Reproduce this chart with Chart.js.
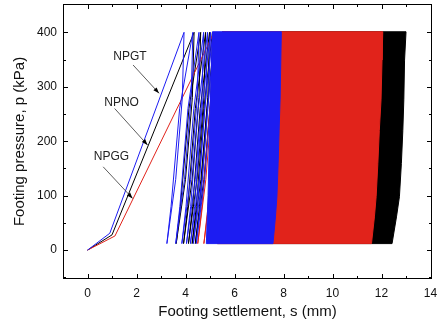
<!DOCTYPE html>
<html>
<head>
<meta charset="utf-8">
<script src="https://cdn.jsdelivr.net/npm/chart.js@4.4.1/dist/chart.umd.min.js"></script>
<style>
  html, body { margin: 0; padding: 0; background: #fff; }
</style>
</head>
<body>
<canvas id="chart" width="437" height="323"></canvas>
<script>
// axis ticks
const xTicks = [0, 2, 4, 6, 8, 10, 12, 14];
const xMinor = [1, 3, 5, 7, 9, 11, 13];
const yTicks = [0, 100, 200, 300, 400];
const yMinor = [-50, 50, 150, 250, 350];

// NPGT (blue): first loading and the first distinct load/unload cycles
const blueS = [0, 0.91, 3.94,
  3.87, 3.60, 3.24, 3.41, 3.76, 4.30,
  4.23, 3.96, 3.60, 3.77, 4.10, 4.55,
  4.48, 4.21, 3.85, 4.02, 4.34, 4.74,
  4.67, 4.40, 4.04, 4.21, 4.52, 4.90,
  4.83, 4.56, 4.20, 4.37, 4.67, 5.02,
  4.95, 4.68, 4.32, 4.49, 4.78, 5.12,
  5.05, 4.78, 4.44, 4.60, 4.90, 5.20];
const blueP = [0, 31, 400,
  280, 130, 12, 80, 260, 400,
  280, 130, 12, 80, 260, 400,
  280, 130, 12, 80, 260, 400,
  280, 130, 12, 80, 260, 400,
  280, 130, 12, 80, 260, 400,
  280, 130, 12, 80, 260, 400,
  280, 130, 12, 80, 260, 400];
// NPGT: outline of the dense cycling region
const blueBandS = [5.10, 7.91, 7.86, 7.82, 7.78, 7.73, 7.67, 7.57, 4.85, 4.92, 5.00, 5.10];
const blueBandP = [401, 401, 276, 220, 159, 98, 61, 12, 12, 100, 250, 401];

// NPNO (black)
const blackS = [0, 1.00, 4.35,
  4.28, 4.00, 3.62, 3.79, 4.14, 4.62,
  4.55, 4.27, 3.92, 4.09, 4.40, 4.82,
  4.75, 4.47, 4.12, 4.29, 4.60, 4.98,
  4.91, 4.63, 4.27, 4.44, 4.75, 5.10,
  5.03, 4.75, 4.40, 4.57, 4.88, 5.20];
const blackP = [0, 28, 400,
  280, 130, 12, 80, 260, 400,
  280, 130, 12, 80, 260, 400,
  280, 130, 12, 80, 260, 400,
  280, 130, 12, 80, 260, 400,
  280, 130, 12, 80, 260, 400];
const blackBandS = [5.5, 13.00, 12.94, 12.91, 12.87, 12.81, 12.73, 12.61, 12.43, 5.3];
const blackBandP = [401, 401, 349, 276, 220, 159, 98, 61, 12, 12];

// NPGG (red)
const redS = [0, 1.12, 5.17,
  5.10, 4.83, 4.50, 4.67, 5.00, 5.42,
  5.35, 5.08, 4.75, 4.92, 5.25, 5.62];
const redP = [0, 26, 400,
  280, 130, 12, 80, 260, 400,
  280, 130, 12, 80, 260, 400];
const redBandS = [5.5, 12.05, 12.02, 11.98, 11.91, 11.85, 11.78, 11.71, 11.59, 5.3];
const redBandP = [401, 401, 349, 276, 220, 159, 98, 61, 12, 12];

// curve labels with leader arrows (data units)
const labelText = ['NPGT', 'NPNO', 'NPGG'];
const labelS = [1.73, 1.39, 0.98];
const labelP = [355, 271, 171];
const arrowFromS = [1.86, 1.11, 0.64];
const arrowFromP = [340, 260, 153];
const arrowToS = [2.92, 2.45, 1.84];
const arrowToP = [288, 193, 95];

const BLUE = '#1c1cf2';
const RED = '#e1231b';
const BLACK = '#000000';

const pts = (xs, ys) => xs.map((v, i) => ({ x: v, y: ys[i] }));

const lineSet = (xs, ys, color) => ({
    data: pts(xs, ys),
    showLine: true,
    borderColor: color,
    borderWidth: 1,
    pointRadius: 0,
    fill: false,
    tension: 0
});

const bandSet = (xs, ys, color) => ({
    data: pts(xs, ys),
    showLine: true,
    borderColor: color,
    backgroundColor: color,
    borderWidth: 1,
    pointRadius: 0,
    fill: 'shape',
    tension: 0
});

const frame = {
    id: 'frame',
    afterDatasetsDraw(chart) {
        const { ctx, chartArea: a, scales: { x, y } } = chart;
        ctx.save();
        ctx.strokeStyle = '#000';
        ctx.lineWidth = 1;
        ctx.strokeRect(a.left + 0.5, a.top + 0.5, a.right - a.left - 1, a.bottom - a.top - 1);

        ctx.beginPath();
        const xt = (v, len) => {
            const px = Math.round(x.getPixelForValue(v)) + 0.5;
            ctx.moveTo(px, a.bottom); ctx.lineTo(px, a.bottom - len);
            ctx.moveTo(px, a.top); ctx.lineTo(px, a.top + len);
        };
        const yt = (v, len) => {
            const py = Math.round(y.getPixelForValue(v)) + 0.5;
            ctx.moveTo(a.left, py); ctx.lineTo(a.left + len, py);
            ctx.moveTo(a.right, py); ctx.lineTo(a.right - len, py);
        };
        xTicks.forEach(v => xt(v, 5));
        xMinor.forEach(v => xt(v, 3));
        yTicks.forEach(v => yt(v, 5));
        yMinor.forEach(v => yt(v, 3));
        ctx.stroke();

        // labels and arrows
        ctx.font = '12px "Liberation Sans", Arial, sans-serif';
        ctx.textAlign = 'center';
        ctx.textBaseline = 'middle';
        ctx.fillStyle = '#222';
        labelText.forEach((t, i) => {
            ctx.fillText(t, x.getPixelForValue(labelS[i]), y.getPixelForValue(labelP[i]));
            const x0 = x.getPixelForValue(arrowFromS[i]);
            const y0 = y.getPixelForValue(arrowFromP[i]);
            const x1 = x.getPixelForValue(arrowToS[i]);
            const y1 = y.getPixelForValue(arrowToP[i]);
            ctx.strokeStyle = '#333';
            ctx.lineWidth = 0.8;
            ctx.beginPath();
            ctx.moveTo(x0, y0);
            ctx.lineTo(x1, y1);
            ctx.stroke();
            const ang = Math.atan2(y1 - y0, x1 - x0);
            ctx.save();
            ctx.translate(x1, y1);
            ctx.rotate(ang);
            ctx.fillStyle = '#000';
            ctx.beginPath();
            ctx.moveTo(0, 0);
            ctx.lineTo(-6, -2.2);
            ctx.lineTo(-6, 2.2);
            ctx.closePath();
            ctx.fill();
            ctx.restore();
        });
        ctx.restore();
    }
};

const noEdgePad = s => {
    s.paddingTop = 0;
    s.paddingBottom = 0;
    s.paddingLeft = 0;
    s.paddingRight = 0;
};

const ctx = document.getElementById('chart').getContext('2d');
const chart = new Chart(ctx, {
    type: 'scatter',
    data: {
        datasets: [
            lineSet(blueS, blueP, BLUE),
            bandSet(blueBandS, blueBandP, BLUE),
            lineSet(redS, redP, RED),
            bandSet(redBandS, redBandP, RED),
            lineSet(blackS, blackP, BLACK),
            bandSet(blackBandS, blackBandP, BLACK)
        ]
    },
    options: {
        responsive: false,
        animation: false,
        layout: { padding: { top: 4, right: 5, left: 0, bottom: 0 } },
        plugins: { legend: { display: false }, tooltip: { enabled: false } },
        scales: {
            x: {
                type: 'linear',
                min: -1,
                max: 14.06,
                afterBuildTicks: s => { s.ticks = xTicks.map(v => ({ value: v })); },
                afterFit: s => { s.height = 44; noEdgePad(s); },
                grid: { display: false, drawTicks: false },
                border: { display: false },
                ticks: {
                    padding: 7,
                    color: '#111',
                    font: { family: '"Liberation Sans", Arial, sans-serif', size: 12 }
                },
                title: {
                    display: true,
                    text: 'Footing settlement, s (mm)',
                    color: '#111',
                    font: { family: '"Liberation Sans", Arial, sans-serif', size: 15 },
                    padding: { top: 0, bottom: 2 }
                }
            },
            y: {
                type: 'linear',
                min: -53,
                max: 452,
                afterBuildTicks: s => { s.ticks = yTicks.map(v => ({ value: v })); },
                afterFit: s => { s.width = 63; noEdgePad(s); },
                grid: { display: false, drawTicks: false },
                border: { display: false },
                ticks: {
                    padding: 6,
                    color: '#111',
                    font: { family: '"Liberation Sans", Arial, sans-serif', size: 12 }
                },
                title: {
                    display: true,
                    text: 'Footing pressure, p (kPa)',
                    color: '#111',
                    font: { family: '"Liberation Sans", Arial, sans-serif', size: 15 },
                    padding: { top: 11, bottom: 0 }
                }
            }
        }
    },
    plugins: [frame]
});
</script>
</body>
</html>
